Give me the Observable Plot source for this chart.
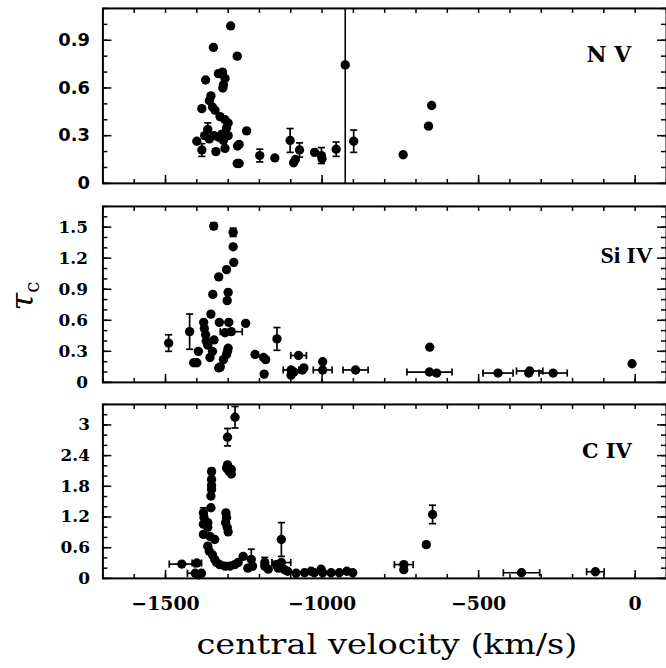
<!DOCTYPE html>
<html><head><meta charset="utf-8">
<script src="https://cdn.jsdelivr.net/npm/d3@7"></script>
<script src="https://cdn.jsdelivr.net/npm/@observablehq/plot@0.6"></script>
<style>
body{margin:0;background:#fff;}
#wrap{position:relative;width:666px;height:668px;overflow:hidden;background:#fff;}
#xtitle{position:absolute;left:387px;top:631px;font-family:"DejaVu Serif",serif;font-size:28px;line-height:1;white-space:nowrap;transform:translate(-50%,0) scaleX(1.2);transform-origin:center;}
#ytitle{position:absolute;left:24px;top:296px;font-family:"DejaVu Serif",serif;font-size:32px;font-style:italic;line-height:1;white-space:nowrap;transform:translate(-50%,-50%) rotate(-90deg);}
#ytitle sub{font-size:20px;font-style:normal;vertical-align:-6px;}
</style></head><body>
<div id="wrap">
<div id="xtitle">central velocity (km/s)</div>
<div id="ytitle">τ<sub>c</sub></div>
</div>
<script>
// ---- shared axis ----
const xDomain = [-1700, 100];
const xTickLabels = [-1500, -1000, -500, 0];

// ---- N V panel ----
const nvVel    = [-1292,-1347,-1271,-926,-1372,-1331,-1318,-1310,-1315,-1317,-1355,-1360,-1384,-1350,-1342,-1326,-1310,-1300,-1305,-1241,-1365,-1375,-1360,-1345,-1330,-1320,-1315,-1300,-1400,-1384,-1339,-1310,-1270,-1265,-1271,-1265,-1199,-1151,-1102,-1091,-1085,-1072,-1024,-1002,-1000,-955,-899,-741,-660,-650];
const nvTau    = [0.99,0.855,0.80,0.745,0.65,0.69,0.70,0.66,0.62,0.60,0.55,0.52,0.47,0.48,0.46,0.42,0.40,0.38,0.35,0.33,0.34,0.30,0.28,0.30,0.29,0.31,0.27,0.30,0.265,0.21,0.20,0.22,0.235,0.245,0.125,0.125,0.175,0.16,0.27,0.13,0.15,0.21,0.195,0.175,0.155,0.215,0.265,0.18,0.36,0.49];
const nvTauErr = [0,0,0,0,0,0,0,0,0,0,0,0,0,0,0,0,0,0,0,0,0.04,0,0,0,0,0,0,0,0,0.04,0,0,0,0,0,0,0.04,0,0.075,0,0,0.045,0,0.05,0,0.045,0.07,0,0,0];
const nvVelErr = nvVel.map(() => 0);
const nvLine = [-926];
const nvTicks = [0, 0.3, 0.6, 0.9];

// ---- Si IV panel ----
const siVel    = [-1490,-1423,-1410,-1400,-1395,-1378,-1376,-1372,-1370,-1365,-1355,-1349,-1346,-1358,-1350,-1345,-1330,-1330,-1325,-1328,-1315,-1305,-1305,-1300,-1302,-1303,-1300,-1298,-1284,-1284,-1282,-1290,-1310,-1244,-1214,-1187,-1180,-1185,-1144,-1099,-1090,-1075,-1099,-1063,-1058,-998,-998,-893,-656,-657,-634,-438,-337,-340,-262,-10];
const siTau    = [0.38,0.49,0.19,0.19,0.30,0.58,0.52,0.46,0.40,0.36,0.66,0.85,1.51,0.24,0.30,0.41,1.02,0.14,0.15,0.58,0.22,1.09,0.27,0.33,0.30,0.79,0.87,0.58,1.45,1.31,1.16,0.49,0.48,0.57,0.27,0.24,0.22,0.08,0.42,0.12,0.10,0.26,0.07,0.12,0.14,0.12,0.20,0.12,0.34,0.10,0.09,0.09,0.11,0.09,0.09,0.18];
const siTauErr = [0.08,0.17,0,0,0,0,0,0,0,0,0,0,0.03,0,0,0,0,0,0,0,0,0,0,0,0,0,0,0,0.04,0,0,0,0,0,0,0,0,0,0.11,0,0,0,0,0,0,0,0,0,0,0,0,0,0,0,0,0];
const siVelErr = [0,0,0,0,0,0,0,0,0,0,0,0,0,0,0,0,0,0,0,0,0,0,0,0,0,0,0,0,0,0,0,35,0,0,0,0,0,0,0,25,0,25,0,0,0,30,0,40,0,72,0,48,42,0,45,0];
const siTicks = [0, 0.3, 0.6, 0.9, 1.2, 1.5];

// ---- C IV panel ----
const cVel    = [-1278,-1302,-1302,-1305,-1290,-1290,-1298,-1353,-1353,-1353,-1353,-1355,-1355,-1379,-1377,-1365,-1379,-1365,-1307,-1305,-1308,-1303,-1300,-1379,-1358,-1343,-1365,-1360,-1350,-1343,-1337,-1327,-1310,-1295,-1279,-1268,-1252,-1448,-1400,-1405,-1385,-1395,-1226,-1237,-1222,-1183,-1183,-1172,-1146,-1130,-1130,-1140,-1120,-1110,-1083,-1056,-1035,-1025,-1003,-998,-971,-945,-921,-902,-739,-739,-667,-647,-363,-127];
const cTau    = [3.15,2.76,2.22,2.16,2.13,2.04,2.10,2.09,1.93,1.82,1.74,1.61,1.38,1.28,1.19,1.09,1.06,1.00,1.28,1.19,1.09,1.00,0.91,0.86,0.82,0.76,0.63,0.53,0.46,0.37,0.31,0.27,0.24,0.24,0.27,0.31,0.43,0.28,0.30,0.10,0.10,0.07,0.37,0.20,0.24,0.31,0.24,0.18,0.27,0.76,0.31,0.20,0.17,0.14,0.10,0.11,0.14,0.11,0.18,0.11,0.11,0.11,0.14,0.11,0.27,0.17,0.66,1.25,0.11,0.13];
const cTauErr = [0.21,0.17,0,0,0,0,0,0.06,0,0,0,0,0,0.1,0,0,0,0,0,0,0,0,0,0,0,0,0,0,0,0,0,0,0,0,0,0,0,0,0,0,0,0,0.2,0,0,0.1,0,0,0.06,0.33,0,0,0,0,0,0,0,0,0,0,0,0,0,0,0,0,0,0.18,0,0];
const cVelErr = [0,0,0,0,0,0,0,0,0,0,0,0,0,0,0,0,0,0,0,0,0,0,0,0,0,0,0,0,0,0,0,0,0,0,0,0,0,40,15,25,0,0,0,0,0,0,0,0,0,0,30,0,0,0,0,0,0,0,0,0,0,0,0,0,30,0,0,0,58,28];
const cTicks = [0, 0.6, 1.2, 1.8, 2.4, 3];

// ---- drawing ----
const W = 670, ML = 103, MT = 8;
const xMinor = d3.range(-1700, 101, 100);
function cap(horizontal) {
  return {draw(ctx, size) {
    const r = Math.sqrt(size / Math.PI);
    if (horizontal) { ctx.moveTo(-r, 0); ctx.lineTo(r, 0); }
    else { ctx.moveTo(0, -r); ctx.lineTo(0, r); }
  }};
}
const hCap = cap(true), vCap = cap(false);
const fmtY = d => d === 0 ? "0" : String(d);
const fmtX = d => d < 0 ? "\u2212" + (-d) : String(d);

function panel(o) {
  const rows = o.vel.map((v, i) => ({v, t: o.tau[i], et: o.tauErr[i], ev: o.velErr[i]}));
  const ve = rows.filter(d => d.et > 0), he = rows.filter(d => d.ev > 0);
  const frameH = o.height - MT - o.mb, frameW = W - ML;
  const yMinor = d3.range(0, o.yDomain[1] + 1e-9, o.yStep);
  const marks = [
    ...(o.extraRule ? [Plot.ruleX(o.extraRule, {x: d => d, strokeWidth: 1.6})] : []),
    Plot.ruleX(ve, {x: "v", y1: d => d.t - d.et, y2: d => d.t + d.et, strokeWidth: 1.7}),
    Plot.dot(ve, {x: "v", y: d => d.t - d.et, symbol: hCap, r: 3.6, stroke: "black", strokeWidth: 1.7}),
    Plot.dot(ve, {x: "v", y: d => d.t + d.et, symbol: hCap, r: 3.6, stroke: "black", strokeWidth: 1.7}),
    Plot.ruleY(he, {y: "t", x1: d => d.v - d.ev, x2: d => d.v + d.ev, strokeWidth: 1.7}),
    Plot.dot(he, {x: d => d.v - d.ev, y: "t", symbol: vCap, r: 3.6, stroke: "black", strokeWidth: 1.7}),
    Plot.dot(he, {x: d => d.v + d.ev, y: "t", symbol: vCap, r: 3.6, stroke: "black", strokeWidth: 1.7}),
    Plot.dot(rows, {x: "v", y: "t", r: 4.7, fill: "black"}),
    Plot.tickX(xMinor, {x: d => d, insetTop: frameH - 4, strokeWidth: 1.5}),
    Plot.tickX(xTickLabels, {x: d => d, insetTop: frameH - 8, strokeWidth: 1.5}),
    Plot.tickX(xMinor, {x: d => d, insetBottom: frameH - 5, strokeWidth: 1.5}),
    Plot.tickY(yMinor, {y: d => d, insetRight: frameW - 5, strokeWidth: 1.5}),
    Plot.tickY(o.yTicks, {y: d => d, insetRight: frameW - 9, strokeWidth: 1.5}),
    Plot.tickY(yMinor, {y: d => d, insetLeft: frameW - 5, strokeWidth: 1.5}),
    Plot.tickY(o.yTicks, {y: d => d, insetLeft: frameW - 9, strokeWidth: 1.5}),
    Plot.frame({strokeWidth: 2}),
    Plot.axisY(o.yTicks, {tickSize: 0, tickPadding: o.pad, tickFormat: fmtY, label: null,
      fontSize: o.yFontSize, fontFamily: o.yFont, fontWeight: "bold"}),
    Plot.text([o.label], {frameAnchor: "top-right", dx: o.ldx, dy: o.ldy, lineAnchor: "middle", textAnchor: "middle",
      fontSize: o.lFontSize, fontFamily: o.lFont, fontWeight: "bold"})
  ];
  if (o.xAxis) {
    marks.push(Plot.axisX(xTickLabels, {tickSize: 0, tickPadding: 18, tickFormat: fmtX, label: null,
      fontSize: 19, fontFamily: "DejaVu Serif", fontWeight: "bold"}));
  }
  const svg = Plot.plot({
    width: W, height: o.height,
    marginLeft: ML, marginRight: 0, marginTop: MT, marginBottom: o.mb,
    x: {domain: xDomain, axis: null},
    y: {domain: o.yDomain, axis: null},
    style: {background: "transparent", overflow: "visible", color: "black"},
    marks
  });
  svg.style.position = "absolute";
  svg.style.left = "0px";
  svg.style.top = o.top + "px";
  document.getElementById("wrap").append(svg);
}

panel({vel: nvVel, tau: nvTau, tauErr: nvTauErr, velErr: nvVelErr, extraRule: nvLine,
  yDomain: [0, 1.1], yStep: 0.1, yTicks: nvTicks, top: 0, height: 186, mb: 2, pad: 13,
  yFont: "DejaVu Sans", yFontSize: 18, label: "N V", lFont: "DejaVu Serif", lFontSize: 22, ldx: -58, ldy: 47});
panel({vel: siVel, tau: siTau, tauErr: siTauErr, velErr: siVelErr,
  yDomain: [0, 1.7], yStep: 0.1, yTicks: siTicks, top: 198, height: 187, mb: 2, pad: 15,
  yFont: "DejaVu Serif", yFontSize: 17, label: "Si IV", lFont: "Liberation Serif", lFontSize: 24, ldx: -40, ldy: 49});
panel({vel: cVel, tau: cTau, tauErr: cTauErr, velErr: cVelErr,
  yDomain: [0, 3.4], yStep: 0.2, yTicks: cTicks, top: 396, height: 223, mb: 40, pad: 13,
  yFont: "DejaVu Serif", yFontSize: 17, label: "C IV", lFont: "DejaVu Serif", lFontSize: 21, ldx: -60, ldy: 47, xAxis: true});
</script>
</body></html>
